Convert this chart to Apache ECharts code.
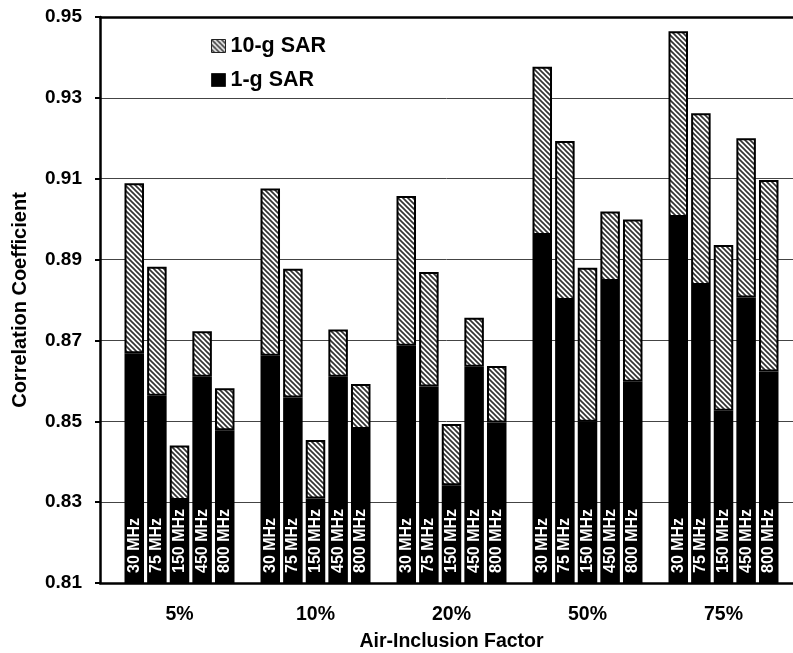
<!DOCTYPE html>
<html>
<head>
<meta charset="utf-8">
<script src="https://cdn.jsdelivr.net/npm/echarts@6/dist/echarts.min.js"></script>
<style>html,body{margin:0;padding:0;background:#fff;}#c{width:793px;height:653px;}</style>
</head>
<body>
<div id="c"></div>
<script>
// ---- data ----
var categories = ['5%', '10%', '20%', '50%', '75%'];
var frequencies = ['30 MHz', '75 MHz', '150 MHz', '450 MHz', '800 MHz'];
var yTicks = [0.81, 0.83, 0.85, 0.87, 0.89, 0.91, 0.93, 0.95];

// 10-g SAR correlation coefficient, per frequency, across air-inclusion factors
var sar10g_30MHz  = [0.9089, 0.9076, 0.9057, 0.9377, 0.9465];
var sar10g_75MHz  = [0.8882, 0.8877, 0.8869, 0.9193, 0.9262];
var sar10g_150MHz = [0.8440, 0.8454, 0.8493, 0.8880, 0.8936];
var sar10g_450MHz = [0.8723, 0.8727, 0.8756, 0.9019, 0.9200];
var sar10g_800MHz = [0.8582, 0.8592, 0.8637, 0.8999, 0.9097];

// 1-g SAR correlation coefficient
var sar1g_30MHz  = [0.8668, 0.8662, 0.8687, 0.8961, 0.9005];
var sar1g_75MHz  = [0.8563, 0.8559, 0.8586, 0.8800, 0.8837];
var sar1g_150MHz = [0.8305, 0.8309, 0.8342, 0.8499, 0.8526];
var sar1g_450MHz = [0.8610, 0.8610, 0.8635, 0.8847, 0.8806];
var sar1g_800MHz = [0.8478, 0.8481, 0.8497, 0.8598, 0.8623];

var sar10g = [sar10g_30MHz, sar10g_75MHz, sar10g_150MHz, sar10g_450MHz, sar10g_800MHz];
var sar1g = [sar1g_30MHz, sar1g_75MHz, sar1g_150MHz, sar1g_450MHz, sar1g_800MHz];

// ---- hatch pattern ----
function makeHatch() {
  var s = 5;
  var cv = document.createElement('canvas');
  cv.width = s; cv.height = s;
  var ctx = cv.getContext('2d');
  ctx.fillStyle = '#ffffff';
  ctx.fillRect(0, 0, s, s);
  ctx.strokeStyle = '#333333';
  ctx.lineWidth = 1.7;
  for (var k = -1; k <= 1; k++) {
    ctx.beginPath();
    ctx.moveTo(-1, k * s - 1);
    ctx.lineTo(s + 1, s + k * s + 1);
    ctx.stroke();
  }
  return cv;
}
var hatch = { image: makeHatch(), repeat: 'repeat' };

var FONT = "'Liberation Sans', Arial, sans-serif";
var yMin = yTicks[0], yMax = yTicks[yTicks.length - 1];
var yStep = Math.round((yTicks[1] - yTicks[0]) * 100) / 100;

var series = [];
for (var i = 0; i < frequencies.length; i++) {
  (function (i) {
    series.push({
      name: '1-g SAR',
      type: 'bar',
      xAxisIndex: 2,
      yAxisIndex: 1,
      stack: 'f' + i,
      barWidth: 19.5,
      barGap: '16%',
      data: sar1g[i],
      itemStyle: { color: '#000', borderColor: '#000', borderWidth: 2 },
      label: {
        show: true,
        position: 'insideBottom',
        distance: 11,
        rotate: 90,
        align: 'left',
        verticalAlign: 'middle',
        color: '#fff',
        fontFamily: FONT,
        fontWeight: 'bold',
        fontSize: 16,
        formatter: function () { return frequencies[i]; }
      },
      silent: true
    });
    series.push({
      name: '10-g SAR',
      type: 'bar',
      xAxisIndex: 2,
      yAxisIndex: 1,
      stack: 'f' + i,
      barWidth: 19.5,
      barGap: '16%',
      data: sar10g[i].map(function (v, j) { return +(v - sar1g[i][j]).toFixed(4); }),
      itemStyle: { color: hatch, borderColor: '#000', borderWidth: 2 },
      silent: true
    });
  })(i);
}

var chart = echarts.init(document.getElementById('c'), null, { renderer: 'canvas' });
chart.setOption({
  animation: false,
  backgroundColor: '#fff',
  textStyle: { fontFamily: FONT },
  grid: [
    { left: 100, right: 0, top: 17, bottom: 70, containLabel: false, outerBoundsMode: 'none' },
    { left: 111.5, right: 1.5, top: 17, bottom: 70, containLabel: false, outerBoundsMode: 'none' }
  ],
  legend: {
    data: ['10-g SAR', '1-g SAR'],
    orient: 'vertical',
    left: 206,
    top: 30,
    itemWidth: 14,
    itemHeight: 13,
    itemGap: 12,
    icon: 'rect',
    selectedMode: false,
    itemStyle: { borderColor: '#222', borderWidth: 1 },
    textStyle: { fontFamily: FONT, fontSize: 21.5, fontWeight: 'bold', color: '#000', lineHeight: 21 }
  },
  xAxis: [
    {
      gridIndex: 0, type: 'category', data: categories, position: 'bottom',
      axisLine: { show: true, lineStyle: { color: '#000', width: 2.5 } },
      axisTick: { show: false }, axisLabel: { show: false }, splitLine: { show: false }
    },
    {
      gridIndex: 0, type: 'category', data: categories, position: 'top',
      axisLine: { show: true, lineStyle: { color: '#000', width: 2.5 } },
      axisTick: { show: false }, axisLabel: { show: false }, splitLine: { show: false }
    },
    {
      gridIndex: 1, type: 'category', data: categories, position: 'bottom',
      axisLine: { show: false }, axisTick: { show: false },
      axisLabel: { show: true, margin: 22, color: '#000', fontFamily: FONT, fontWeight: 'bold', fontSize: 19.5 },
      name: 'Air-Inclusion Factor',
      nameLocation: 'middle',
      nameGap: 49,
      nameTextStyle: { color: '#000', fontFamily: FONT, fontWeight: 'bold', fontSize: 19.5 }
    }
  ],
  yAxis: [
    {
      gridIndex: 0, type: 'value', min: yMin, max: yMax, interval: yStep,
      axisLine: { show: true, lineStyle: { color: '#000', width: 2.5 } },
      axisTick: { show: true, inside: false, length: 5, lineStyle: { color: '#000', width: 2 } },
      axisLabel: {
        margin: 18, color: '#000', fontFamily: FONT, fontWeight: 'bold', fontSize: 19,
        formatter: function (v) { return v.toFixed(2); }
      },
      splitLine: { show: true, lineStyle: { color: '#444', width: 1 } },
      name: 'Correlation Coefficient',
      nameLocation: 'middle',
      nameGap: 70,
      nameTextStyle: { color: '#000', fontFamily: FONT, fontWeight: 'bold', fontSize: 20 }
    },
    {
      gridIndex: 1, type: 'value', min: yMin, max: yMax, interval: yStep,
      show: false, splitLine: { show: false }
    }
  ],
  series: series
});
</script>
</body>
</html>
